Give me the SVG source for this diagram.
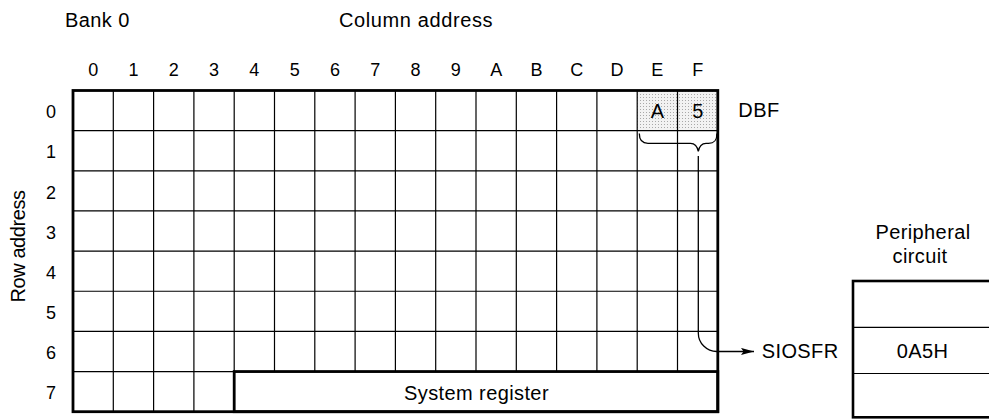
<svg xmlns="http://www.w3.org/2000/svg" width="989" height="419" viewBox="0 0 989 419">
<style>
text{font-family:"Liberation Sans",Arial,Helvetica,sans-serif;fill:#000}
.lbl{font-size:20px;letter-spacing:0.4px}
.dig{font-size:18px;text-anchor:middle}
.mid{text-anchor:middle}
.thin{stroke:#000;stroke-width:1.2;fill:none}
.thick{stroke:#000;stroke-width:2.8;fill:none}
.conn{stroke:#000;stroke-width:1.3;fill:none}
</style>
<defs>
<pattern id="stip" width="3" height="3" patternUnits="userSpaceOnUse">
<rect width="3" height="3" fill="#f2f2f2"/>
<rect x="1" y="1" width="1" height="1" fill="#a8a8a8"/>
</pattern>
<marker id="arr" markerUnits="userSpaceOnUse" markerWidth="14" markerHeight="8" refX="13" refY="4" orient="auto">
<path d="M0,0.4 L13,4 L0,7.6 L2.5,4 z" fill="#000"/>
</marker>
</defs>
<rect width="989" height="419" fill="#fff"/>

<g id="titles">
<text class="lbl" x="65" y="26.5">Bank 0</text>
<text class="lbl" x="339" y="26.5" textLength="154">Column address</text>
<text class="lbl" transform="translate(25,246) rotate(-90)" text-anchor="middle" textLength="113">Row address</text>
</g>

<g id="column-labels">
<text class="dig" x="93.15" y="76">0</text>
<text class="dig" x="133.45" y="76">1</text>
<text class="dig" x="173.75" y="76">2</text>
<text class="dig" x="214.05" y="76">3</text>
<text class="dig" x="254.35" y="76">4</text>
<text class="dig" x="294.65" y="76">5</text>
<text class="dig" x="334.95" y="76">6</text>
<text class="dig" x="375.25" y="76">7</text>
<text class="dig" x="415.55" y="76">8</text>
<text class="dig" x="455.85" y="76">9</text>
<text class="dig" x="496.15" y="76">A</text>
<text class="dig" x="536.45" y="76">B</text>
<text class="dig" x="576.75" y="76">C</text>
<text class="dig" x="617.05" y="76">D</text>
<text class="dig" x="657.35" y="76">E</text>
<text class="dig" x="697.65" y="76">F</text>
</g>

<g id="row-labels">
<text class="dig" x="51" y="118.3">0</text>
<text class="dig" x="51" y="158.4">1</text>
<text class="dig" x="51" y="198.6">2</text>
<text class="dig" x="51" y="238.7">3</text>
<text class="dig" x="51" y="278.9">4</text>
<text class="dig" x="51" y="319">5</text>
<text class="dig" x="51" y="359.2">6</text>
<text class="dig" x="51" y="399.3">7</text>
</g>

<g id="dbf">
<rect x="637.2" y="90.5" width="80.6" height="40.15" fill="url(#stip)"/>
<text class="lbl mid" x="657.6" y="118.3">A</text>
<text class="lbl mid" x="698" y="118.3">5</text>
<text class="lbl" x="738.3" y="117.3">DBF</text>
</g>

<g id="bank0-grid">
<path class="thin" d="M113.3,90.5V411.7 M153.6,90.5V411.7 M193.9,90.5V411.7 M234.2,90.5V371.55 M274.5,90.5V371.55 M314.8,90.5V371.55 M355.1,90.5V371.55 M395.4,90.5V371.55 M435.7,90.5V371.55 M476,90.5V371.55 M516.3,90.5V371.55 M556.6,90.5V371.55 M596.9,90.5V371.55 M637.2,90.5V371.55 M677.5,90.5V371.55"/>
<path class="thin" d="M73,130.65H717.8 M73,170.8H717.8 M73,210.95H717.8 M73,251.1H717.8 M73,291.25H717.8 M73,331.4H717.8 M73,371.55H234.2"/>
<rect class="thick" x="73" y="90.5" width="644.8" height="321.2"/>
</g>

<g id="system-register">
<rect class="thick" x="234.2" y="371.55" width="483.6" height="40.15"/>
<text class="lbl mid" x="476.5" y="400.3">System register</text>
</g>

<g id="peripheral-circuit">
<text class="lbl mid" x="923" y="239.3">Peripheral</text>
<text class="lbl mid" x="920" y="263.3">circuit</text>
<rect x="853" y="281" width="200" height="136.3" fill="none" stroke="#000" stroke-width="2.6"/>
<path class="thin" d="M853,327.3H989 M853,373.5H989"/>
<text class="lbl mid" x="922.5" y="357.5">0A5H</text>
</g>

<g id="connectors">
<path class="conn" d="M639.3,133.5 C639.3,140 641.5,143.3 648,143.3 L690.5,143.3 C695,143.3 697.5,147 698.3,151.5 C699.1,147 701.6,143.3 706,143.3 L708.5,143.3 C715,143.3 716.9,140 716.9,133.5"/>
<path class="conn" d="M698.3,156 V333 A18.5,18.5 0 0 0 716.8,351.5 H754" marker-end="url(#arr)"/>
<text class="lbl" x="761.7" y="357.5">SIOSFR</text>
</g>
</svg>
